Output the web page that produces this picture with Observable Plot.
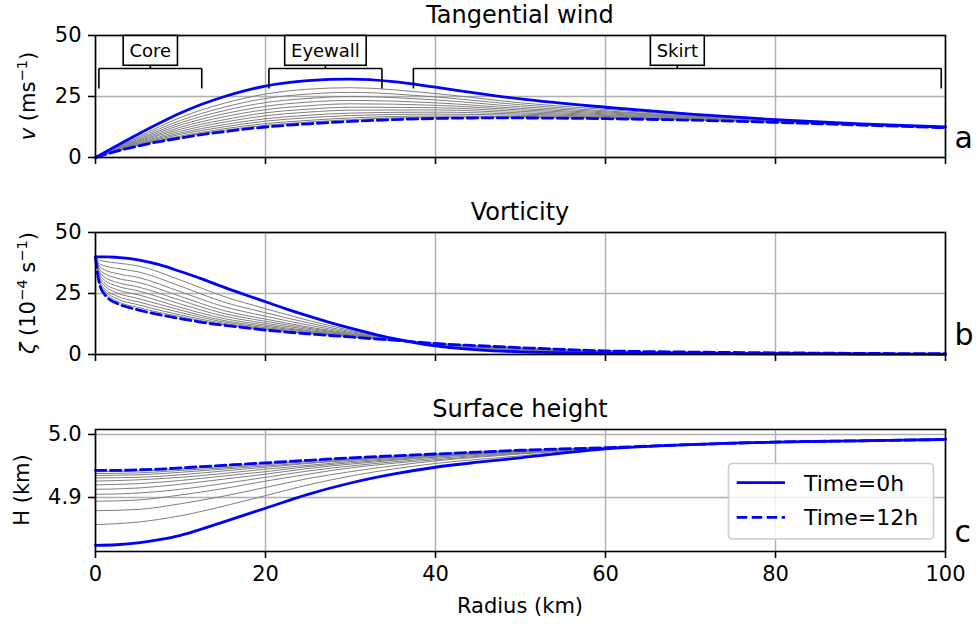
<!DOCTYPE html>
<html>
<head>
<meta charset="utf-8">
<script src="https://cdn.jsdelivr.net/npm/d3@7"></script>
<script src="https://cdn.jsdelivr.net/npm/@observablehq/plot@0.6"></script>
<style>
  body { margin: 0; background: #fff; }
  #chart { width: 978px; height: 627px; position: relative; }
  #chart svg { display: block; }
</style>
</head>
<body>
<div id="chart"></div>
<script>
// ---- shared axis values ----
const xTicks = [0, 20, 40, 60, 80, 100];
const windTicks = [0, 25, 50];
const vortTicks = [0, 25, 50];
const heightTicks = [4.9, 5.0];
const panelTitles = ["Tangential wind", "Vorticity", "Surface height"];
const panelLetters = ["a", "b", "c"];
const legendLabels = ["Time=0h", "Time=12h"];

// ---- radial regions marked on the wind panel (km) ----
const regionNames = ["Core", "Eyewall", "Skirt"];
const regionStart = [0.4, 20.4, 37.4];
const regionEnd = [12.5, 33.7, 99.5];

// ---- tangential wind (m/s) ----
const windRadius = [0, 2.5, 5, 7.5, 10, 12.5, 15, 17.5, 20, 25, 30, 35, 40, 45, 50, 60, 70, 80, 90, 100];
const windStart = [0, 4.8, 9.5, 14, 18.2, 21.8, 24.8, 27.3, 29.3, 31.5, 32.1, 31.1, 28.8, 26.3, 24, 20.6, 17.8, 15.5, 13.8, 12.5];
const windEnd = [0, 2.6, 4.7, 6.5, 8.0, 9.4, 10.5, 11.6, 12.5, 13.8, 14.8, 15.5, 16.0, 16.2, 16.2, 15.9, 15.3, 14.4, 13.3, 12.2];
const windMidRadius = [0, 5, 10, 15, 20, 25, 30, 40, 50, 60, 80, 100];
const windMid = [
  [0, 8.4, 16.4, 22.1, 26.0, 28.0, 28.6, 26.2, 22.4, 19.7, 15.3, 12.4],
  [0, 7.9, 15.2, 20.5, 24.2, 26.0, 26.7, 24.8, 21.6, 19.1, 15.2, 12.4],
  [0, 7.4, 14.2, 19.1, 22.5, 24.2, 25.0, 23.6, 20.8, 18.7, 15.0, 12.4],
  [0, 7.0, 13.3, 17.8, 21.0, 22.7, 23.4, 22.4, 20.1, 18.3, 15.0, 12.4],
  [0, 6.6, 12.4, 16.6, 19.6, 21.2, 22.0, 21.4, 19.5, 17.9, 14.9, 12.3],
  [0, 6.3, 11.6, 15.4, 18.3, 19.8, 20.6, 20.4, 18.9, 17.5, 14.8, 12.3],
  [0, 5.9, 10.8, 14.4, 17.1, 18.6, 19.4, 19.5, 18.3, 17.2, 14.7, 12.3],
  [0, 5.6, 10.1, 13.4, 15.9, 17.3, 18.2, 18.6, 17.8, 16.8, 14.6, 12.3],
  [0, 5.3, 9.5, 12.5, 14.9, 16.3, 17.2, 17.8, 17.3, 16.6, 14.6, 12.2],
  [0, 5.1, 8.8, 11.7, 13.9, 15.2, 16.2, 17.0, 16.8, 16.3, 14.5, 12.2],
  [0, 4.9, 8.4, 11.1, 13.2, 14.5, 15.5, 16.5, 16.5, 16.1, 14.4, 12.2]
];

// ---- relative vorticity (1e-4 1/s) ----
const vortRadius = [0, 0.25, 0.5, 1, 1.5, 2.5, 5, 7.5, 10, 12.5, 15, 17.5, 20, 22.5, 25, 27.5, 30, 32.5, 35, 37.5, 40, 45, 50, 60, 70, 80, 90, 100];
const vortStart = [40, 40, 40, 40, 40, 39.8, 38.8, 36.8, 34, 31, 27.7, 24.6, 21.6, 18.6, 15.8, 13.2, 10.8, 8.6, 6.6, 4.9, 3.5, 1.9, 1.1, 0.6, 0.4, 0.3, 0.2, 0.1];
const vortEnd = [40, 33, 28.5, 25, 23, 21, 18.3, 16.3, 14.7, 13.2, 12, 11, 10, 9.2, 8.5, 7.8, 7.2, 6.5, 5.9, 5.2, 4.5, 3.6, 2.8, 1.5, 1.0, 0.7, 0.45, 0.3];
const vortMidRadius = [0, 0.5, 1, 2.5, 5, 10, 15, 20, 25, 30, 35, 40, 50, 60, 80, 100];
const vortMid = [
  [40, 38.6, 38.2, 37.5, 36.3, 30.5, 23.9, 18.8, 14.0, 9.9, 6.5, 3.7, 1.5, 0.8, 0.4, 0.15],
  [40, 37.2, 36.4, 35.3, 33.9, 28.0, 21.6, 17.1, 13.0, 9.4, 6.4, 3.9, 1.8, 0.95, 0.45, 0.18],
  [40, 36.0, 34.8, 33.2, 31.6, 25.7, 19.7, 15.7, 12.1, 9.0, 6.2, 4.0, 2.0, 1.05, 0.5, 0.2],
  [40, 34.8, 33.3, 31.3, 29.6, 23.8, 18.1, 14.5, 11.3, 8.6, 6.1, 4.1, 2.1, 1.15, 0.55, 0.22],
  [40, 33.8, 31.9, 29.6, 27.7, 22.2, 16.9, 13.6, 10.8, 8.3, 6.0, 4.2, 2.3, 1.2, 0.58, 0.24],
  [40, 32.9, 30.7, 28.1, 26.1, 20.7, 15.8, 12.8, 10.3, 8.1, 6.0, 4.3, 2.4, 1.3, 0.6, 0.25],
  [40, 32.0, 29.5, 26.6, 24.5, 19.3, 14.8, 12.1, 9.8, 7.9, 5.9, 4.3, 2.5, 1.35, 0.63, 0.26],
  [40, 31.1, 28.5, 25.3, 23.0, 18.2, 14.0, 11.5, 9.5, 7.7, 5.8, 4.4, 2.6, 1.4, 0.65, 0.27],
  [40, 30.3, 27.4, 24.0, 21.6, 17.2, 13.4, 11.0, 9.2, 7.5, 5.8, 4.4, 2.6, 1.4, 0.66, 0.28],
  [40, 29.7, 26.5, 22.9, 20.4, 16.2, 12.8, 10.6, 8.9, 7.4, 5.8, 4.5, 2.7, 1.45, 0.68, 0.29],
  [40, 29.1, 25.8, 21.9, 19.3, 15.5, 12.3, 10.2, 8.7, 7.3, 5.7, 4.5, 2.8, 1.5, 0.69, 0.3]
];

// ---- fluid depth (km) ----
const heightRadius = [0, 2.5, 5, 7.5, 10, 12.5, 15, 17.5, 20, 25, 30, 35, 40, 45, 50, 60, 70, 80, 90, 100];
const heightStart = [4.824, 4.825, 4.828, 4.833, 4.840, 4.850, 4.861, 4.872, 4.883, 4.905, 4.923, 4.937, 4.948, 4.956, 4.963, 4.977, 4.984, 4.988, 4.990, 4.992];
const heightEnd = [4.943, 4.943, 4.944, 4.945, 4.947, 4.949, 4.951, 4.953, 4.955, 4.959, 4.963, 4.966, 4.969, 4.972, 4.975, 4.979, 4.984, 4.988, 4.990, 4.992];
const heightMidRadius = [0, 5, 10, 15, 20, 25, 30, 40, 50, 60, 80, 100];
const heightMid = [
  [4.857, 4.861, 4.871, 4.886, 4.903, 4.920, 4.934, 4.954, 4.966, 4.978, 4.988, 4.992],
  [4.879, 4.881, 4.890, 4.902, 4.916, 4.930, 4.941, 4.958, 4.969, 4.978, 4.988, 4.992],
  [4.894, 4.896, 4.904, 4.914, 4.926, 4.937, 4.947, 4.960, 4.970, 4.978, 4.988, 4.992],
  [4.905, 4.907, 4.913, 4.922, 4.932, 4.942, 4.950, 4.962, 4.971, 4.978, 4.988, 4.992],
  [4.913, 4.915, 4.921, 4.929, 4.937, 4.946, 4.953, 4.964, 4.972, 4.979, 4.988, 4.992],
  [4.920, 4.922, 4.927, 4.934, 4.941, 4.949, 4.955, 4.965, 4.973, 4.979, 4.988, 4.992],
  [4.926, 4.928, 4.932, 4.938, 4.945, 4.951, 4.957, 4.966, 4.973, 4.979, 4.988, 4.992],
  [4.931, 4.932, 4.936, 4.942, 4.948, 4.954, 4.959, 4.967, 4.974, 4.979, 4.988, 4.992],
  [4.935, 4.936, 4.940, 4.945, 4.950, 4.955, 4.960, 4.968, 4.974, 4.979, 4.988, 4.992],
  [4.938, 4.939, 4.943, 4.947, 4.952, 4.957, 4.961, 4.968, 4.975, 4.979, 4.988, 4.992],
  [4.941, 4.942, 4.945, 4.949, 4.954, 4.958, 4.962, 4.969, 4.975, 4.979, 4.988, 4.992]
];

// ---- layout ----
const FONT = "DejaVu Sans";
const W = 978, ML = 95, MR = 33, MT = 35, PLOT_H = 122;
const GRID = "#b0b0b0";
const CURVE = "monotone-x";

function toRows(radius, values, series) {
  return radius.map((r, i) => ({r, v: values[i], series}));
}

function panel({height, yDomain, yTicks, yFormat, radius, start, end, midRadius, mid, showX, extra = []}) {
  const midRows = mid.flatMap((vals, k) => toRows(midRadius, vals, k));
  return Plot.plot({
    width: W,
    height,
    marginLeft: ML,
    marginRight: MR,
    marginTop: MT,
    marginBottom: height - MT - PLOT_H,
    style: {fontFamily: FONT, color: "black", background: "white", overflow: "visible"},
    x: {domain: [0, 100]},
    y: {domain: yDomain},
    marks: [
      Plot.gridX({ticks: xTicks, stroke: GRID, strokeOpacity: 1, strokeWidth: 1.5}),
      Plot.gridY({ticks: yTicks, stroke: GRID, strokeOpacity: 1, strokeWidth: 1.5}),
      Plot.line(midRows, {x: "r", y: "v", z: "series", stroke: "gray", strokeWidth: 1, curve: CURVE}),
      Plot.line(toRows(radius, start, "start"), {x: "r", y: "v", stroke: "blue", strokeWidth: 2.8, curve: CURVE}),
      Plot.line(toRows(radius, end, "end"), {x: "r", y: "v", stroke: "blue", strokeWidth: 2.8, strokeDasharray: "10.5,4.5", curve: CURVE}),
      Plot.frame({stroke: "black", strokeWidth: 1.6}),
      Plot.axisX({ticks: xTicks, tickSize: 7, tickPadding: 7.5, strokeWidth: 1.6, fontSize: 21,
                  tickFormat: showX ? d3.format("d") : () => "", label: null}),
      Plot.axisY({ticks: yTicks, tickSize: 7, tickPadding: 7, strokeWidth: 1.6, fontSize: 21,
                  tickFormat: yFormat, label: null}),
      ...extra
    ]
  });
}

// bracket marks naming the radial regions
const regionRows = regionNames.map((name, i) => ({
  name, x1: regionStart[i], x2: regionEnd[i], mid: (regionStart[i] + regionEnd[i]) / 2
}));
const BRACKET = 36.5, LEG = 28.3, BOX = 43.6;
const bracketMarks = [
  Plot.link(regionRows, {x1: "x1", x2: "x2", y1: () => BRACKET, y2: () => BRACKET, stroke: "black", strokeWidth: 1.6}),
  Plot.link(regionRows, {x1: "x1", x2: "x1", y1: () => BRACKET, y2: () => LEG, stroke: "black", strokeWidth: 1.6}),
  Plot.link(regionRows, {x1: "x2", x2: "x2", y1: () => BRACKET, y2: () => LEG, stroke: "black", strokeWidth: 1.6}),
  Plot.link(regionRows, {x1: "mid", x2: "mid", y1: () => BRACKET, y2: () => BOX, stroke: "black", strokeWidth: 1.6}),
  Plot.text(regionRows, {x: "mid", y: () => BOX, text: "name", fontSize: 18, fill: "black"})
];

const wind = panel({
  height: 197, yDomain: [0, 50], yTicks: windTicks, yFormat: d3.format("d"),
  radius: windRadius, start: windStart, end: windEnd, midRadius: windMidRadius, mid: windMid,
  showX: false, extra: bracketMarks
});
const vort = panel({
  height: 197, yDomain: [0, 50], yTicks: vortTicks, yFormat: d3.format("d"),
  radius: vortRadius, start: vortStart, end: vortEnd, midRadius: vortMidRadius, mid: vortMid,
  showX: false
});
const depth = panel({
  height: 233, yDomain: [4.8143, 5.0079], yTicks: heightTicks, yFormat: d3.format(".1f"),
  radius: heightRadius, start: heightStart, end: heightEnd, midRadius: heightMidRadius, mid: heightMid,
  showX: true
});

const chart = document.getElementById("chart");
[wind, vort, depth].forEach(svg => chart.appendChild(svg));

const cx = ML + (W - ML - MR) / 2;
const cy = MT + PLOT_H / 2;

// titles and panel letters
[wind, vort, depth].forEach((svg, i) => {
  const s = d3.select(svg);
  s.append("text").attr("x", cx).attr("y", 22.5).attr("text-anchor", "middle")
    .attr("font-family", FONT).attr("font-size", 24).attr("fill", "black").text(panelTitles[i]);
  s.append("text").attr("x", 954.5).attr("y", 148).attr("text-anchor", "start").attr("font-family", FONT)
    .attr("font-size", 30).attr("fill", "black").text(panelLetters[i]);
});

// rotated y-axis labels with italic symbols and superscripts
function yLabel(svg, x, parts) {
  const t = d3.select(svg).append("text")
    .attr("transform", `translate(${x},${cy}) rotate(-90)`)
    .attr("text-anchor", "middle").attr("font-family", FONT)
    .attr("font-size", 21).attr("fill", "black");
  let raised = false;
  for (const p of parts) {
    const ts = t.append("tspan").text(p.text);
    if (p.italic) ts.attr("font-style", "italic");
    if (p.sup && !raised) { ts.attr("font-size", 14.7).attr("dy", -8.5); raised = true; }
    else if (!p.sup && raised) { ts.attr("dy", 8.5); raised = false; }
    else if (p.sup) ts.attr("font-size", 14.7);
  }
}
yLabel(wind, 35, [{text: "v", italic: true}, {text: " (ms"}, {text: "\u22121", sup: true}, {text: ")"}]);
yLabel(vort, 35, [{text: "\u03b6", italic: true}, {text: " (10"}, {text: "\u22124", sup: true}, {text: " s"}, {text: "\u22121", sup: true}, {text: ")"}]);
yLabel(depth, 28.5, [{text: "H (km)"}]);

// x-axis label
d3.select(depth).append("text").attr("x", cx).attr("y", 219).attr("text-anchor", "middle")
  .attr("font-family", FONT).attr("font-size", 21).attr("fill", "black").text("Radius (km)");

// boxes behind the region names
d3.select(wind).selectAll("text")
  .filter(function () { return regionNames.includes(this.textContent); })
  .each(function () {
    const b = this.getBBox();
    const padX = 6.3, padY = 4.4;
    const rect = d3.select(this.parentNode).insert("rect", () => this)
      .attr("x", b.x - padX).attr("y", b.y - padY)
      .attr("width", b.width + 2 * padX).attr("height", b.height + 2 * padY)
      .attr("fill", "white").attr("stroke", "black").attr("stroke-width", 1.6);
    const tf = this.getAttribute("transform");
    if (tf) rect.attr("transform", tf);
  });

// legend inside the depth panel
const lg = d3.select(depth).append("g").attr("font-family", FONT).attr("font-size", 22)
  .attr("text-anchor", "start");
lg.append("rect").attr("x", 728.5).attr("y", 69.5).attr("width", 205).attr("height", 75.5)
  .attr("rx", 4).attr("fill", "white").attr("fill-opacity", 0.8)
  .attr("stroke", "#cccccc").attr("stroke-width", 1.6);
legendLabels.forEach((label, i) => {
  const y = 88.7 + i * 34.6;
  lg.append("line").attr("x1", 736.7).attr("x2", 785).attr("y1", y).attr("y2", y)
    .attr("stroke", "blue").attr("stroke-width", 2.8)
    .attr("stroke-dasharray", i === 0 ? null : "10.5,4.5");
  lg.append("text").attr("x", 804).attr("y", y + 8).attr("text-anchor", "start")
    .attr("fill", "black").text(label);
});
</script>
</body>
</html>
